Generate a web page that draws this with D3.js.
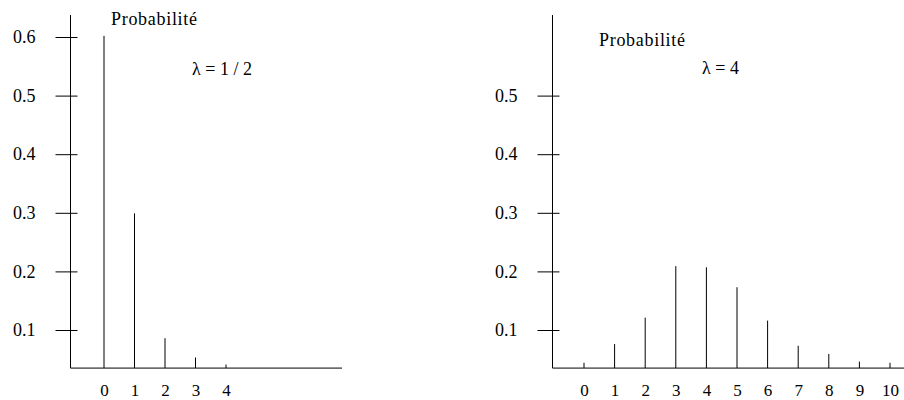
<!DOCTYPE html>
<html>
<head>
<meta charset="utf-8">
<script src="https://cdn.jsdelivr.net/npm/d3@7"></script>
<style>
  body { margin: 0; background: #fff; }
  text { font-family: "Liberation Serif", "Times New Roman", serif; fill: #000; }
</style>
</head>
<body>
<div class="chart"></div>
<script>
var svgWidth = 904;
var svgHeight = 400;

// Poisson probabilities
var kLeft = [0, 1, 2, 3, 4];
var probLeft = [0.602, 0.299, 0.086, 0.053, 0.041];
var yTicksLeft = [0.1, 0.2, 0.3, 0.4, 0.5, 0.6];

var kRight = [0, 1, 2, 3, 4, 5, 6, 7, 8, 9, 10];
var probRight = [0.044, 0.076, 0.121, 0.209, 0.207, 0.173, 0.116, 0.073, 0.059, 0.046, 0.044];
var yTicksRight = [0.1, 0.2, 0.3, 0.4, 0.5];

var svg = d3.select(".chart")
  .append("svg")
  .attr("width", svgWidth)
  .attr("height", svgHeight);

// shared vertical scale (axes cross a little above zero)
var yScale = d3.scaleLinear()
  .domain([0.1, 0.6])
  .range([330, 37]);
var yBase = 0.035;
var yTop = 0.6375;

function drawPanel(opts) {
  var g = svg.append("g");
  var xScale = d3.scaleLinear()
    .domain([opts.k[0], opts.k[opts.k.length - 1]])
    .range(opts.xRange);

  // y axis
  var leftAxis = d3.axisLeft(yScale)
    .tickValues(opts.yTicks)
    .tickFormat(d3.format(".1f"))
    .tickSizeInner(15)
    .tickSizeOuter(0)
    .tickPadding(20);

  var yAxisG = g.append("g")
    .attr("transform", `translate(${opts.axisX}, 0)`)
    .call(leftAxis);
  yAxisG.select(".domain").remove();
  yAxisG.selectAll(".tick line").attr("x2", -15).attr("x1", 7).attr("stroke", "#000");
  yAxisG.selectAll(".tick text").attr("font-size", "18px").attr("font-family", null);

  g.append("line")
    .attr("x1", opts.axisX).attr("x2", opts.axisX)
    .attr("y1", yScale(yTop)).attr("y2", yScale(yBase))
    .attr("stroke", "#000");

  // x axis
  var bottomAxis = d3.axisBottom(xScale)
    .tickValues(opts.k)
    .tickFormat(d3.format("d"))
    .tickSize(0)
    .tickPadding(16);

  var xAxisG = g.append("g")
    .attr("transform", `translate(0, ${yScale(yBase)})`)
    .call(bottomAxis);
  xAxisG.select(".domain").remove();
  xAxisG.selectAll(".tick text").attr("font-size", "17px").attr("font-family", null);

  g.append("line")
    .attr("x1", opts.axisX).attr("x2", opts.xEnd)
    .attr("y1", yScale(yBase)).attr("y2", yScale(yBase))
    .attr("stroke", "#000");

  // vertical bars
  g.selectAll(".bar")
    .data(opts.p)
    .enter()
    .append("line")
    .attr("class", "bar")
    .attr("x1", (d, i) => xScale(opts.k[i]))
    .attr("x2", (d, i) => xScale(opts.k[i]))
    .attr("y1", yScale(yBase))
    .attr("y2", d => yScale(d))
    .attr("stroke", "#000");

  // labels
  g.append("text")
    .attr("x", opts.titleX)
    .attr("y", opts.titleY)
    .attr("font-size", "18px")
    .attr("textLength", 86)
    .text("Probabilité");

  g.append("text")
    .attr("x", opts.lambdaX)
    .attr("y", opts.lambdaY)
    .attr("font-size", "18px")
    .text(opts.lambda);
}

drawPanel({
  k: kLeft, p: probLeft, yTicks: yTicksLeft,
  axisX: 70.5, xRange: [104, 226], xEnd: 342,
  titleX: 111, titleY: 25, lambdaX: 192, lambdaY: 75,
  lambda: "λ = 1 / 2"
});

drawPanel({
  k: kRight, p: probRight, yTicks: yTicksRight,
  axisX: 552.5, xRange: [584, 890], xEnd: 904,
  titleX: 599, titleY: 46, lambdaX: 702, lambdaY: 74,
  lambda: "λ = 4"
});
</script>
</body>
</html>
